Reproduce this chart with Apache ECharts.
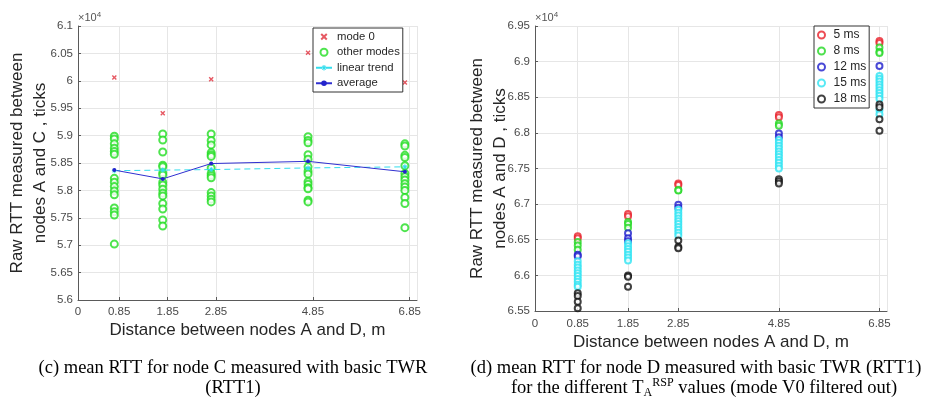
<!DOCTYPE html>
<html>
<head>
<meta charset="utf-8">
<script src="https://cdn.jsdelivr.net/npm/echarts@6/dist/echarts.min.js"></script>
<style>
html, body { margin: 0; padding: 0; background: #fff; }
#chart { width: 927px; height: 398px; }
</style>
</head>
<body>
<div id="chart"></div>
<script>
// values, y in units of 1e4 ticks
const xTicks = [0, 0.85, 1.85, 2.85, 4.85, 6.85];
const xGrid = [0.85, 1.85, 2.85, 4.85, 6.85, 7];

// (c) node C - points sit a little left of the tick marks
const xC = [0.75, 1.75, 2.75, 4.75, 6.75];
const mode0C = [6.006, 5.941, 6.003, 6.051, 5.997];
const otherC = [
  [5.899, 5.894, 5.885, 5.877, 5.871, 5.866, 5.822, 5.815, 5.807, 5.799, 5.792, 5.768, 5.761, 5.755, 5.702],
  [5.903, 5.892, 5.870, 5.846, 5.843, 5.832, 5.828, 5.815, 5.810, 5.802, 5.795, 5.790, 5.776, 5.766, 5.746, 5.735],
  [5.903, 5.891, 5.883, 5.869, 5.865, 5.862, 5.841, 5.831, 5.827, 5.823, 5.796, 5.790, 5.784, 5.779],
  [5.898, 5.891, 5.887, 5.865, 5.857, 5.843, 5.835, 5.830, 5.816, 5.811, 5.805, 5.803, 5.782, 5.779],
  [5.885, 5.881, 5.864, 5.860, 5.845, 5.831, 5.825, 5.819, 5.812, 5.806, 5.800, 5.787, 5.776, 5.732]
];
const trendC = [5.836, 5.837, 5.838, 5.841, 5.843];
const avgC = [5.837, 5.821, 5.849, 5.853, 5.834];

// (d) node D, one list per distance for each T_A^RSP value
const xD = [0.85, 1.85, 2.85, 4.85, 6.85];
const rsp5 = [[6.655, 6.652], [6.686, 6.683], [6.729, 6.727], [6.825, 6.822], [6.929, 6.926]];
const rsp8 = [[6.647, 6.642, 6.636], [6.675, 6.672, 6.667], [6.720, 6.719], [6.813, 6.810], [6.920, 6.914, 6.912]];
const rsp12 = [[6.629, 6.627], [6.659, 6.652, 6.648], [6.699, 6.695], [6.799, 6.794], [6.894]];
const rsp15 = [
  [6.620, 6.615, 6.611, 6.607, 6.603, 6.599, 6.595, 6.591, 6.587, 6.584],
  [6.645, 6.641, 6.637, 6.633, 6.629, 6.625, 6.621],
  [6.692, 6.688, 6.684, 6.680, 6.676, 6.672, 6.668, 6.664, 6.660, 6.656],
  [6.790, 6.786, 6.782, 6.778, 6.774, 6.770, 6.766, 6.762, 6.758, 6.754, 6.750],
  [6.880, 6.876, 6.872, 6.868, 6.864, 6.860, 6.856, 6.852, 6.848, 6.832, 6.826]
];
const rsp18 = [[6.575, 6.571, 6.563, 6.554], [6.600, 6.598, 6.584], [6.649, 6.640, 6.638], [6.735, 6.732, 6.729], [6.840, 6.836, 6.819, 6.803]];

const rspNames = ['5 ms', '8 ms', '12 ms', '15 ms', '18 ms'];
const rspData = [rsp5, rsp8, rsp12, rsp15, rsp18];
const rspColors = ['#e8202a', '#22d822', '#1c1ccc', '#2ee4f2', '#111111'];

const crossPath = 'path://M0,2L2,0L5,3L8,0L10,2L7,5L10,8L8,10L5,7L2,10L0,8L3,5Z';
const starPath = 'path://M4,0H6V4H10V6H6V10H4V6H0V4H4Z M1,2L2,1L5,4L8,1L9,2L6,5L9,8L8,9L5,6L2,9L1,8L4,5Z';

const textColor = '#4a4a4a';
const axisColor = '#5a5a5a';
const gridColor = '#e6e6e6';

function flatPoints(xs, groups) {
  const out = [];
  groups.forEach((g, i) => g.forEach(v => out.push([xs[i], v])));
  return out;
}

function xAxisConf(idx, gap, margin) {
  return {
    type: 'value',
    gridIndex: idx,
    min: 0,
    max: 7,
    axisLine: { show: true, lineStyle: { color: axisColor } },
    axisTick: { show: true, inside: true, length: 3, customValues: xTicks, lineStyle: { color: axisColor } },
    axisLabel: {
      customValues: xTicks,
      margin: margin,
      fontSize: 11.5,
      color: textColor,
      fontFamily: 'Liberation Sans',
      formatter: v => (v === 0 ? '0' : v.toFixed(2))
    },
    splitLine: { show: false },
    name: 'Distance between nodes A and D, m',
    nameLocation: 'middle',
    nameGap: gap,
    nameMoveOverlap: false,
    nameTextStyle: { fontSize: 17, color: '#262626', fontFamily: 'Liberation Sans' }
  };
}

function yAxisConf(idx, min, max, name, gap) {
  return {
    type: 'value',
    gridIndex: idx,
    min: min,
    max: max,
    interval: 0.05,
    axisLine: { show: true, lineStyle: { color: axisColor } },
    axisTick: { show: true, inside: true, length: 3, lineStyle: { color: axisColor } },
    axisLabel: {
      margin: 5,
      fontSize: 11.5,
      color: textColor,
      fontFamily: 'Liberation Sans',
      formatter: v => String(+v.toFixed(2))
    },
    splitLine: { show: true, lineStyle: { color: gridColor } },
    name: name,
    nameLocation: 'middle',
    nameGap: gap,
    nameMoveOverlap: false,
    nameTextStyle: { fontSize: 17, lineHeight: 23, color: '#262626', fontFamily: 'Liberation Sans' }
  };
}

// vertical grid lines at the irregular ticks
function gridLines(idx) {
  return {
    type: 'scatter',
    xAxisIndex: idx,
    yAxisIndex: idx,
    data: [],
    silent: true,
    markLine: {
      silent: true,
      symbol: 'none',
      z: 0,
      label: { show: false },
      emphasis: { disabled: true },
      lineStyle: { color: gridColor, type: 'solid', width: 1 },
      data: xGrid.map(v => ({ xAxis: v }))
    }
  };
}

const seriesD = rspNames.map((name, k) => ({
  name: name,
  type: 'scatter',
  xAxisIndex: 1,
  yAxisIndex: 1,
  symbol: 'emptyCircle',
  symbolSize: 6,
  itemStyle: { color: rspColors[k], borderColor: rspColors[k], borderWidth: 1.8 },
  data: flatPoints(xD, rspData[k])
}));

const chart = echarts.init(document.getElementById('chart'));
const option = {
  backgroundColor: '#fff',
  animation: false,
  grid: [
    { left: 78, top: 26, width: 339, height: 274 },
    { left: 535, top: 26, width: 352, height: 285 }
  ],
  xAxis: [xAxisConf(0, 22, 6), xAxisConf(1, 23, 7)],
  yAxis: [
    yAxisConf(0, 5.6, 6.1, 'Raw RTT measured between\nnodes A and C , ticks', 26),
    yAxisConf(1, 6.55, 6.95, 'Raw RTT measured between\nnodes A and D , ticks', 23)
  ],
  legend: [
    {
      data: ['mode 0', 'other modes', 'linear trend', 'average'],
      orient: 'vertical',
      left: 313,
      top: 28,
      padding: [2, 3, 2, 2],
      itemWidth: 16,
      itemHeight: 7,
      itemGap: 2,
      borderColor: '#333',
      borderWidth: 1,
      borderRadius: 0,
      backgroundColor: '#fff',
      textStyle: { fontSize: 11.3, lineHeight: 13.5, color: '#262626', fontFamily: 'Liberation Sans' }
    },
    {
      data: rspNames,
      orient: 'vertical',
      left: 814,
      top: 26,
      padding: [2, 3, 2, 3],
      itemWidth: 14,
      itemHeight: 7,
      itemGap: 2,
      borderColor: '#333',
      borderWidth: 1,
      borderRadius: 0,
      backgroundColor: '#fff',
      textStyle: { fontSize: 12, lineHeight: 14, color: '#262626', fontFamily: 'Liberation Sans' }
    }
  ],
  graphic: [
    {
      type: 'text', x: 78, y: 18,
      style: {
        text: '×10{s|4}', fill: '#555', font: '11px "Liberation Sans"', textVerticalAlign: 'middle',
        rich: { s: { fontSize: 8, verticalAlign: 'top', lineHeight: 14, fill: '#555' } }
      }
    },
    {
      type: 'text', x: 535, y: 18,
      style: {
        text: '×10{s|4}', fill: '#555', font: '11px "Liberation Sans"', textVerticalAlign: 'middle',
        rich: { s: { fontSize: 8, verticalAlign: 'top', lineHeight: 14, fill: '#555' } }
      }
    },
    {
      type: 'text', x: 233, y: 368,
      style: {
        text: '(c) mean RTT for node C measured with basic TWR', fill: '#000',
        font: '18.5px "Liberation Serif"', textAlign: 'center', textVerticalAlign: 'middle'
      }
    },
    {
      type: 'text', x: 233, y: 388,
      style: {
        text: '(RTT1)', fill: '#000',
        font: '18.5px "Liberation Serif"', textAlign: 'center', textVerticalAlign: 'middle'
      }
    },
    {
      type: 'text', x: 696, y: 368,
      style: {
        text: '(d) mean RTT for node D measured with basic TWR (RTT1)', fill: '#000',
        font: '18.5px "Liberation Serif"', textAlign: 'center', textVerticalAlign: 'middle'
      }
    },
    {
      type: 'text', x: 704, y: 388,
      style: {
        text: '{n|for the different T}{sub|A}{sup|RSP}{n| values (mode V0 filtered out)}',
        textAlign: 'center', textVerticalAlign: 'middle',
        rich: {
          n: { fontSize: 18.5, fontFamily: 'Liberation Serif', lineHeight: 22, fill: '#000', verticalAlign: 'middle' },
          sub: { fontSize: 12, fontFamily: 'Liberation Serif', lineHeight: 12, fill: '#000', verticalAlign: 'bottom' },
          sup: { fontSize: 12, fontFamily: 'Liberation Serif', lineHeight: 12, fill: '#000', verticalAlign: 'top' }
        }
      }
    }
  ],
  series: [
    gridLines(0),
    gridLines(1),
    {
      name: 'mode 0',
      type: 'scatter',
      xAxisIndex: 0,
      yAxisIndex: 0,
      symbol: crossPath,
      symbolKeepAspect: true,
      symbolSize: 5,
      itemStyle: { color: '#e0303c' },
      data: xC.map((x, i) => [x, mode0C[i]])
    },
    {
      name: 'other modes',
      type: 'scatter',
      xAxisIndex: 0,
      yAxisIndex: 0,
      symbol: 'emptyCircle',
      symbolSize: 7,
      itemStyle: { color: '#22dd22', borderColor: '#22dd22', borderWidth: 1.3 },
      data: flatPoints(xC, otherC)
    },
    {
      name: 'linear trend',
      type: 'line',
      xAxisIndex: 0,
      yAxisIndex: 0,
      symbol: starPath,
      symbolKeepAspect: true,
      symbolSize: 5,
      showAllSymbol: true,
      itemStyle: { color: '#33dded' },
      lineStyle: { color: '#33dded', width: 1, type: [6, 4] },
      data: xC.map((x, i) => [x, trendC[i]])
    },
    {
      name: 'average',
      type: 'line',
      xAxisIndex: 0,
      yAxisIndex: 0,
      symbol: 'circle',
      symbolSize: 4,
      showAllSymbol: true,
      itemStyle: { color: '#2424cc' },
      lineStyle: { color: '#3030d0', width: 1 },
      data: xC.map((x, i) => [x, avgC[i]])
    }
  ].concat(seriesD)
};
chart.setOption(option);
</script>
</body>
</html>
